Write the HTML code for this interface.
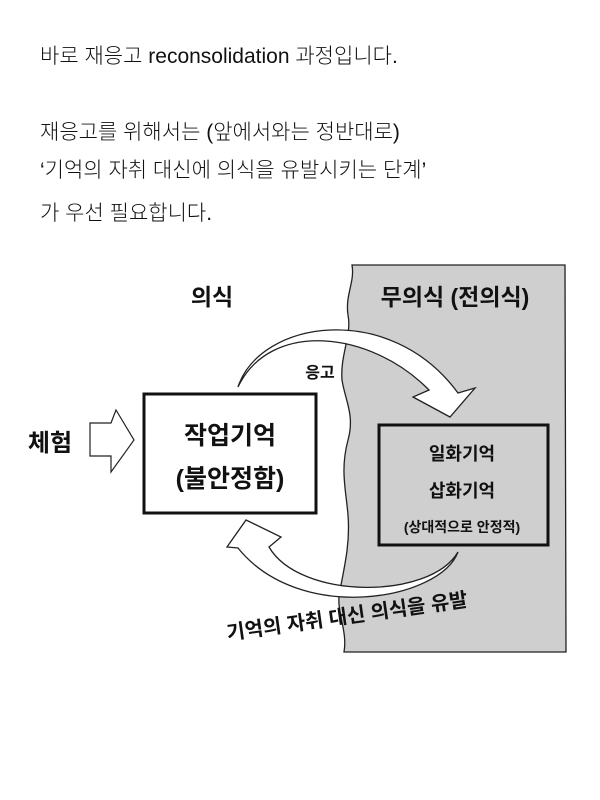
<!DOCTYPE html>
<html><head><meta charset="utf-8"><style>
body{margin:0;width:600px;height:800px;background:#fff;overflow:hidden;font-family:"Liberation Sans","Noto Sans CJK KR",sans-serif;}
.t{position:absolute;left:40px;font-size:21px;color:#111;font-weight:300;white-space:nowrap;}
svg{position:absolute;left:0;top:0}
</style></head><body>
<div class="t" style="top:40px">바로 재응고 reconsolidation 과정입니다.</div>
<div class="t" style="top:116px">재응고를 위해서는 (앞에서와는 정반대로)</div>
<div class="t" style="top:154px">‘기억의 자취 대신에 의식을 유발시키는 단계’</div>
<div class="t" style="top:197px">가 우선 필요합니다.</div>
<svg width="600" height="800" viewBox="0 0 600 800">
<path d="M352,265 L565,265 L566,652 L344,652 C348,630 335,610 340,590 C346,560 350,540 348,515 C346,490 340,470 348,440 C355,415 345,400 342,380 C340,355 352,335 348,315 C345,295 355,282 352,265 Z" fill="#cfcfcf" stroke="#222" stroke-width="1.3"/>
<rect x="144" y="394" width="172" height="119" fill="#fff" stroke="#111" stroke-width="3"/>
<rect x="379" y="425" width="169" height="120" fill="none" stroke="#111" stroke-width="3"/>
<path d="M90,423 L90,456 L111,456 L111,472 L134,440 L116,410 L111,423 Z" fill="#fff" stroke="#222" stroke-width="1.2"/>
<path d="M238,387 C260,320 390,300 458,393 L475,388 L450,417 L413,397 L429,390 C370,330 270,320 238,387 Z" fill="#fff" stroke="#222" stroke-width="1.3"/>
<path d="M458,552 C440,600 300,625 238,548 L227,547 L246,520 L281,537 L269,547 C300,600 430,600 458,552 Z" fill="#fff" stroke="#222" stroke-width="1.3"/>
<g font-family="Liberation Sans,Noto Sans CJK KR,sans-serif" font-weight="bold" fill="#111" text-anchor="middle">
<text x="212" y="305" font-size="23">의식</text>
<text x="455" y="305" font-size="23">무의식 (전의식)</text>
<text x="320" y="378" font-size="16">응고</text>
<text x="50" y="451" font-size="24">체험</text>
<text x="230" y="444" font-size="25">작업기억</text>
<text x="230" y="487" font-size="25">(불안정함)</text>
<text x="462" y="460" font-size="18">일화기억</text>
<text x="462" y="497" font-size="18">삽화기억</text>
<text x="462" y="532" font-size="14">(상대적으로 안정적)</text>
<text x="348" y="623" font-size="20" transform="rotate(-8 348 623)">기억의 자취 대신 의식을 유발</text>
</g>
</svg>
</body></html>
